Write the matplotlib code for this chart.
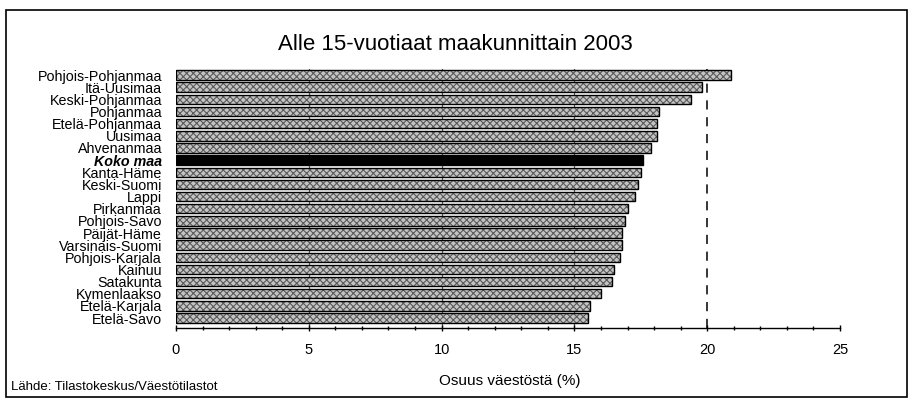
import matplotlib
matplotlib.use("Agg")
import matplotlib.pyplot as plt
from matplotlib.patches import Rectangle
from matplotlib.ticker import MultipleLocator

plt.rcParams['font.family'] = ['Liberation Sans', 'DejaVu Sans']
plt.rcParams['hatch.linewidth'] = 0.8

regions = ["Pohjois-Pohjanmaa", "Itä-Uusimaa", "Keski-Pohjanmaa", "Pohjanmaa",
           "Etelä-Pohjanmaa", "Uusimaa", "Ahvenanmaa", "Koko maa", "Kanta-Häme",
           "Keski-Suomi", "Lappi", "Pirkanmaa", "Pohjois-Savo", "Päijät-Häme",
           "Varsinais-Suomi", "Pohjois-Karjala", "Kainuu", "Satakunta",
           "Kymenlaakso", "Etelä-Karjala", "Etelä-Savo"]
values = [20.9, 19.8, 19.4, 18.2, 18.1, 18.1, 17.9, 17.6, 17.5, 17.4, 17.3,
          17.0, 16.9, 16.8, 16.8, 16.7, 16.5, 16.4, 16.0, 15.6, 15.5]
highlight = "Koko maa"
ref_value = 20
xticks = [0, 5, 10, 15, 20, 25]

fig = plt.figure(figsize=(9.1, 4.0), dpi=100)
fig.patches.append(Rectangle((0.007, 0.008), 0.99, 0.967, transform=fig.transFigure,
                             fill=False, edgecolor='black', linewidth=1.2))

ax = fig.add_axes([176/910, 1-328/400, (840-176)/910, (328-69)/400])
n = len(regions)
ypos = list(range(n-1, -1, -1))

for y, v, name in zip(ypos, values, regions):
    if name == highlight:
        ax.barh(y, v, height=0.78, color='black', edgecolor='black', zorder=3)
    else:
        ax.barh(y, v, height=0.78, color='#c4c4c4', edgecolor='#5a5a5a',
                hatch='xxxxx', linewidth=0, zorder=3)
        ax.barh(y, v, height=0.78, fill=False, edgecolor='black', linewidth=1.0, zorder=4)

for g in [5, 10, 15]:
    ax.axvline(g, color='#555555', linewidth=0.9, zorder=1)
ax.axvline(ref_value, color='black', linewidth=1.1, linestyle=(0, (6, 5)), zorder=1)

ax.set_xlim(0, 25)
ax.set_ylim(-0.82, n - 0.5)
ax.set_xticks(xticks)
ax.set_xticklabels([str(t) for t in xticks], fontsize=10.5)
ax.xaxis.set_minor_locator(MultipleLocator(1))
ax.tick_params(axis='x', which='major', length=5, width=1, direction='inout', pad=8)
ax.tick_params(axis='x', which='minor', length=3, width=1, direction='inout')
ax.set_yticks(ypos)
labels = ax.set_yticklabels(regions, fontsize=10.3)
for lab in labels:
    if lab.get_text() == highlight:
        lab.set_fontweight('bold')
        lab.set_fontstyle('italic')
ax.tick_params(axis='y', length=0, pad=10)
for s in ['top', 'right', 'left']:
    ax.spines[s].set_visible(False)
ax.spines['bottom'].set_linewidth(1.0)

fig.text(455/910, 1-44/400, "Alle 15-vuotiaat maakunnittain 2003", ha='center', va='center', fontsize=16)
fig.text(510/910, 1-381/400, "Osuus väestöstä (%)", ha='center', va='center', fontsize=11)
fig.text(11/910, 1-387/400, "Lähde: Tilastokeskus/Väestötilastot", ha='left', va='center', fontsize=9.5)

fig.savefig("out.png", dpi=100)
